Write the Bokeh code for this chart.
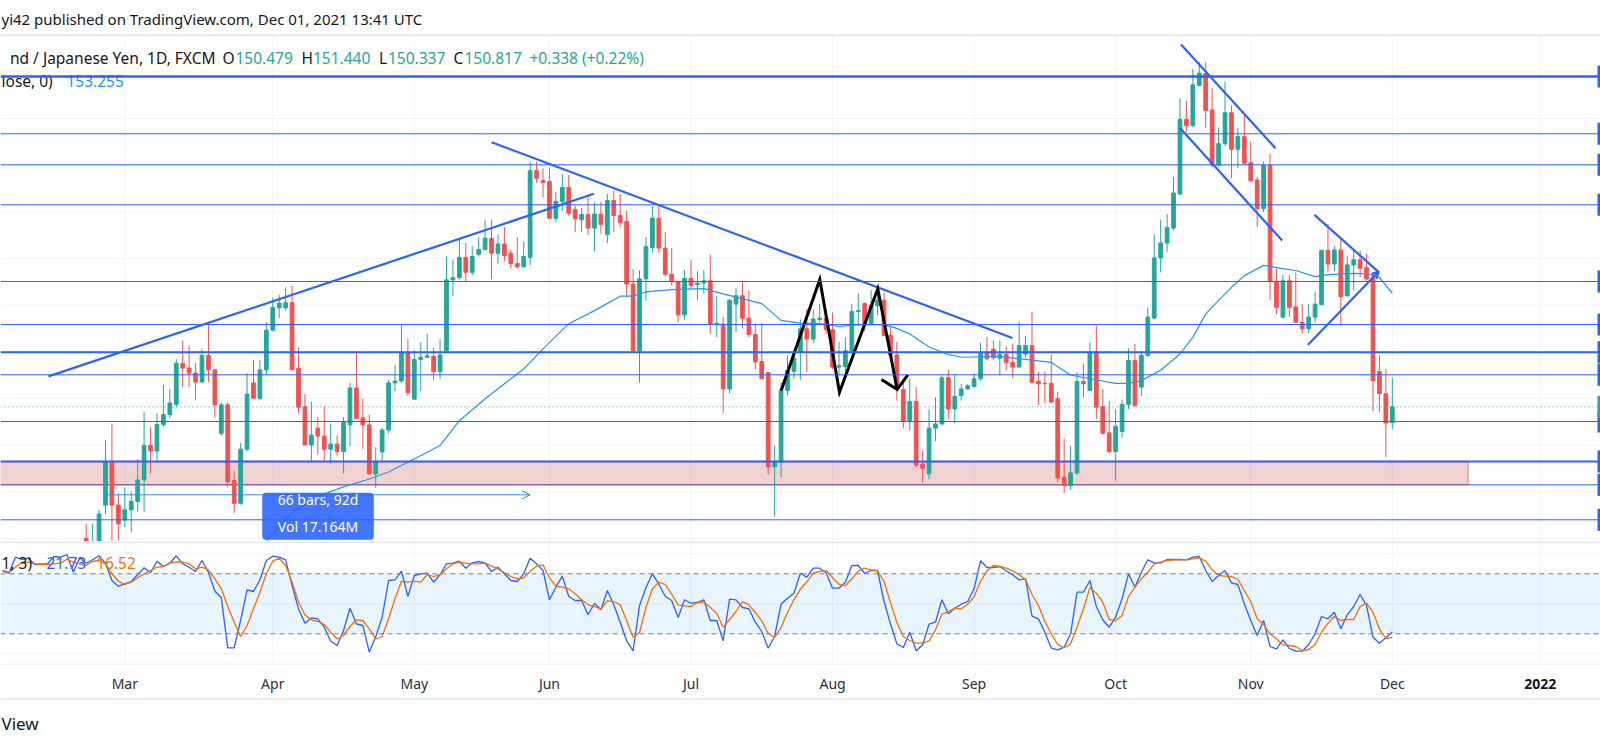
import pandas as pd
from bokeh.plotting import figure
from bokeh.layouts import column
from bokeh.models import Range1d, Span, BoxAnnotation, Arrow, OpenHead, ColumnDataSource, Label
from bokeh.core.properties import value
from bokeh.embed import file_html
from bokeh.resources import INLINE

# ---------------- texts ----------------
header_text = "yi42 published on TradingView.com, Dec 01, 2021 13:41 UTC"
symbol_text = "nd / Japanese Yen, 1D, FXCM"
ohlc_letters = ["O", "H", "L", "C"]
ohlc_texts = ["150.479", "151.440", "150.337", "150.817"]
change_text = "+0.338 (+0.22%)"
ma_label = "lose, 0)"
ma_value_text = "153.255"
stoch_label = "1, 3)"
stoch_k_text = "21.73"
stoch_d_text = "16.52"
footer_text = "View"
measure_texts = ["66 bars, 92d", "Vol 17.164M"]

# ---------------- candles (daily, from 2021-02-19) ----------------
candle_start = "2021-02-19"
opens = [
    148.0, 147.6, 147.9, 148.71, 149.64, 148.71, 148.39, 148.61, 148.79, 149.25,
    149.99, 149.87, 150.44, 150.65, 150.87, 151.75, 151.65, 151.54, 151.35, 151.92,
    151.61, 150.25, 150.86, 149.24, 148.75, 149.91, 151.33, 151.00, 151.61, 152.46,
    152.94, 152.94, 153.05, 151.64, 150.82, 150.00, 150.36, 150.19, 149.91, 150.02,
    149.86, 150.43, 151.22, 150.58, 150.43, 149.38, 149.85, 150.32, 151.33, 151.37,
    151.98, 150.98, 151.83, 151.88, 151.90, 151.57, 152.02, 153.54, 153.59, 154.02,
    153.70, 154.09, 154.19, 154.43, 154.11, 154.31, 154.11, 153.89, 153.82, 154.02,
    155.88, 155.67, 155.65, 154.86, 155.22, 155.52, 155.05, 154.83, 154.94, 154.65,
    154.95, 154.51, 155.24, 154.92, 154.79, 153.45, 152.02, 153.56, 154.23, 154.86,
    154.22, 153.66, 153.50, 152.79, 153.57, 153.44, 153.47, 153.52, 152.59, 152.59,
    151.20, 153.02, 153.20, 152.72, 152.37, 151.79, 151.55, 149.53, 149.63, 151.17,
    151.58, 151.99, 152.49, 152.27, 152.69, 152.72, 152.47, 151.67, 151.68, 152.02,
    152.86, 153.03, 152.60, 152.99, 153.10, 152.35, 151.93, 151.19, 150.50, 150.93,
    149.59, 149.38, 150.36, 150.45, 151.44, 150.77, 151.06, 151.20, 151.25, 151.42,
    151.97, 152.05, 151.86, 151.94, 151.77, 151.67, 151.95, 152.13, 151.36, 151.32,
    151.32, 150.99, 149.31, 149.13, 149.40, 151.36, 151.17, 151.99, 150.82, 150.26,
    149.86, 150.29, 150.87, 151.81, 151.24, 151.92, 152.72, 154.01, 154.33, 154.65,
    155.38, 156.98, 156.85, 157.71, 157.96, 157.18, 156.00, 156.46, 157.12, 156.34,
    156.61, 156.05, 155.68, 155.07, 155.99, 153.51, 152.74, 153.52, 152.96, 152.63,
    152.49, 152.74, 153.01, 154.17, 153.88, 154.18, 153.20, 153.86, 153.97, 153.80,
    153.60, 151.57, 151.10, 150.479,
]
highs = [
    148.31, 148.31, 148.61, 150.11, 150.46, 148.96, 149.09, 149.00, 149.70, 150.70,
    150.38, 150.68, 151.29, 151.20, 151.84, 152.24, 152.13, 151.76, 152.06, 152.57,
    151.63, 150.91, 150.91, 149.45, 150.04, 151.54, 151.82, 151.82, 152.63, 153.16,
    153.22, 153.38, 153.42, 152.09, 151.09, 150.93, 150.60, 150.83, 150.46, 150.21,
    150.60, 151.33, 151.97, 150.99, 150.65, 149.95, 150.36, 151.40, 151.72, 152.57,
    152.27, 152.03, 152.20, 152.38, 152.09, 152.27, 154.04, 153.97, 154.42, 154.33,
    154.26, 154.45, 154.83, 154.83, 154.51, 154.67, 154.19, 154.46, 154.36, 156.07,
    156.07, 155.93, 155.95, 155.42, 155.81, 155.79, 155.13, 155.08, 155.33, 155.20,
    155.21, 155.38, 155.45, 155.38, 155.02, 153.77, 153.74, 154.46, 155.12, 155.12,
    154.56, 154.22, 153.50, 153.75, 153.97, 153.72, 153.75, 154.08, 153.19, 152.75,
    153.13, 153.36, 153.49, 153.31, 152.60, 152.61, 151.57, 149.99, 151.35, 151.92,
    151.93, 152.69, 152.92, 152.90, 153.02, 152.92, 152.84, 152.21, 152.31, 153.02,
    153.25, 153.06, 153.32, 153.32, 153.27, 152.56, 152.21, 151.38, 151.42, 151.24,
    149.88, 150.76, 151.02, 151.49, 151.61, 151.52, 151.31, 151.31, 151.54, 152.19,
    152.31, 152.24, 152.24, 152.11, 152.17, 152.64, 152.34, 152.86, 151.57, 151.57,
    151.94, 151.14, 150.14, 149.97, 151.56, 151.74, 152.19, 152.56, 151.20, 150.94,
    150.76, 150.97, 152.07, 152.17, 152.02, 152.95, 154.51, 154.83, 154.95, 155.75,
    157.43, 157.38, 158.06, 158.21, 158.21, 157.65, 156.81, 157.79, 157.28, 156.80,
    157.08, 156.50, 155.75, 156.08, 156.24, 153.78, 153.65, 153.65, 153.70, 153.02,
    153.02, 153.29, 154.19, 154.74, 154.27, 154.42, 154.06, 154.20, 154.17, 154.10,
    153.67, 151.92, 151.63, 151.440,
]
lows = [
    147.5, 147.4, 147.8, 148.52, 147.95, 147.95, 148.24, 148.13, 148.57, 148.57,
    149.40, 149.63, 150.38, 150.58, 150.81, 151.24, 151.24, 150.96, 151.33, 151.35,
    150.58, 150.20, 149.09, 148.54, 148.72, 149.86, 151.00, 150.96, 151.50, 152.44,
    152.72, 152.89, 151.61, 150.68, 150.00, 149.63, 149.79, 149.66, 149.60, 149.77,
    149.39, 149.97, 150.57, 149.91, 149.38, 149.08, 149.67, 150.25, 151.16, 151.33,
    151.05, 150.98, 151.16, 151.87, 151.40, 151.42, 152.01, 153.19, 153.54, 153.50,
    153.64, 154.04, 154.17, 153.55, 153.89, 153.94, 153.78, 153.78, 153.80, 153.85,
    155.62, 155.31, 154.86, 154.78, 155.02, 154.91, 154.56, 154.56, 154.50, 154.15,
    154.53, 154.33, 154.56, 154.67, 153.16, 152.00, 151.33, 153.09, 154.12, 154.12,
    153.61, 153.42, 152.63, 152.67, 153.35, 153.11, 153.24, 152.38, 152.31, 150.69,
    151.11, 152.42, 152.50, 152.31, 151.62, 151.42, 149.37, 148.47, 149.31, 151.06,
    151.42, 151.40, 151.56, 152.19, 152.63, 152.38, 151.63, 151.49, 151.49, 152.00,
    152.54, 152.44, 152.57, 152.78, 152.33, 151.92, 150.95, 150.36, 150.31, 149.52,
    149.20, 149.27, 150.08, 150.43, 150.56, 150.47, 150.95, 151.19, 151.24, 151.38,
    151.81, 151.81, 151.51, 151.60, 151.43, 151.67, 151.87, 151.34, 150.86, 150.90,
    150.90, 149.20, 148.96, 149.04, 149.36, 151.02, 151.17, 150.56, 150.24, 149.82,
    149.24, 150.16, 150.77, 150.81, 151.05, 151.88, 152.70, 153.70, 154.13, 154.60,
    155.36, 156.71, 156.81, 157.69, 156.80, 155.95, 155.97, 156.41, 155.72, 155.93,
    156.03, 155.63, 154.67, 154.99, 153.11, 152.81, 152.72, 152.75, 152.61, 152.40,
    152.40, 152.63, 152.99, 153.70, 153.72, 152.56, 153.17, 153.31, 153.60, 153.52,
    150.72, 150.70, 149.74, 150.337,
]
closes = [
    147.7, 147.9, 148.52, 149.64, 148.71, 148.31, 148.61, 148.79, 149.25, 149.99,
    149.87, 150.44, 150.65, 150.90, 151.75, 151.65, 151.54, 151.35, 151.92, 151.61,
    150.86, 150.86, 149.21, 148.75, 149.91, 151.09, 151.00, 151.61, 152.46, 152.95,
    153.04, 153.05, 151.61, 150.81, 150.00, 150.21, 150.19, 149.91, 150.02, 149.86,
    150.48, 151.22, 150.57, 150.43, 149.38, 149.63, 150.32, 151.33, 151.37, 151.98,
    151.12, 151.83, 151.88, 151.91, 151.57, 151.93, 153.54, 153.59, 154.02, 153.70,
    154.04, 154.19, 154.43, 154.11, 154.31, 154.06, 153.89, 153.82, 154.04, 155.88,
    155.72, 155.63, 154.86, 155.22, 155.52, 154.97, 154.85, 154.94, 154.65, 154.95,
    154.73, 155.24, 154.92, 154.77, 153.45, 152.02, 153.56, 154.25, 154.86, 154.22,
    153.66, 153.50, 152.79, 153.57, 153.42, 153.47, 153.52, 152.59, 152.61, 151.20,
    153.10, 153.20, 152.72, 152.37, 151.78, 151.42, 149.53, 149.63, 151.17, 151.60,
    151.86, 152.49, 152.27, 152.70, 152.72, 152.47, 151.67, 151.70, 152.02, 152.86,
    152.88, 152.60, 152.99, 153.10, 152.35, 151.93, 151.22, 150.50, 150.93, 149.57,
    149.50, 150.36, 150.45, 151.44, 150.77, 151.04, 151.20, 151.27, 151.42, 151.97,
    151.85, 151.87, 151.94, 151.77, 151.67, 152.13, 152.13, 151.34, 151.31, 151.31,
    150.92, 149.29, 149.13, 149.40, 151.36, 151.31, 151.99, 150.81, 150.25, 149.86,
    150.40, 150.87, 151.81, 150.85, 151.92, 152.74, 154.01, 154.33, 154.66, 155.40,
    156.98, 156.85, 157.72, 157.97, 157.17, 156.00, 156.46, 157.12, 156.34, 156.61,
    156.04, 155.67, 155.07, 155.99, 153.51, 152.95, 153.52, 152.95, 152.63, 152.49,
    152.74, 153.02, 154.17, 153.88, 154.18, 153.18, 153.86, 153.97, 153.79, 153.56,
    151.38, 151.10, 150.47, 150.817,
]

# ---------------- moving average samples (trading days after 2021-03-01) ----------------
ma_days = [22, 26, 30, 34, 38, 41, 44, 49, 52, 56, 59, 62, 65, 69, 73, 77, 79, 81, 85, 90,
           93, 99, 102, 105, 108, 111, 114, 118, 120, 122, 125, 128, 130, 136, 139, 144, 147,
           150, 154, 156, 158, 161, 164, 166, 168, 170, 172, 174, 177, 178, 180, 182, 185, 187,
           191, 193, 195, 197]
ma_values = [147.95, 148.55, 148.9, 149.1, 149.27, 149.42, 149.63, 149.99, 150.52, 150.99,
             151.31, 151.63, 152.06, 152.60, 152.88, 153.19, 153.19, 153.28, 153.33, 153.35,
             153.24, 153.03, 152.67, 152.61, 152.60, 152.54, 152.58, 152.58, 152.50, 152.38,
             152.10, 151.94, 151.88, 151.90, 151.85, 151.77, 151.50, 151.42, 151.32, 151.32,
             151.38, 151.60, 151.95, 152.31, 152.81, 153.10, 153.38, 153.63, 153.85, 153.83,
             153.78, 153.74, 153.61, 153.65, 153.68, 153.67, 153.59, 153.255]

# ---------------- stochastic (daily, from 2021-02-02) ----------------
stoch_start = "2021-02-02"
stoch_k = [
    82.6, 80.6, 96.6, 94.3, 95.6, 89.3, 90, 90, 97.3, 96.6,
    99.3, 81.6, 96, 90.6, 94, 98, 90.6, 73.3, 67.6, 70,
    72.3, 79, 86, 81, 92.6, 87.3, 90.6, 98, 90, 86.6,
    82.3, 93.3, 81.6, 62.6, 56, 6, 6, 33.3, 64, 62.3,
    74, 93.3, 97.6, 96.6, 94, 68.3, 45, 30.6, 36, 35,
    26.6, 12.6, 8.3, 23.3, 45.6, 30, 28.3, 1.6, 17.3, 36.6,
    73.3, 74, 82.6, 57.3, 78.3, 80, 80.6, 71.6, 79.3, 90,
    90.6, 92.6, 85.6, 91, 92.3, 90.6, 82.3, 86.6, 80, 73.3,
    72.3, 80, 95.6, 90, 83.3, 54, 66.6, 77.6, 57.3, 53.3,
    53.3, 39, 50.6, 44, 63.3, 49, 31.6, 13, 3, 48,
    66.3, 80, 69.6, 57.6, 53.3, 36.3, 54, 50.6, 51.3, 54,
    33.3, 33.3, 13, 54.6, 54, 46.3, 45, 31.6, 22.3, 5.6,
    17.3, 49.6, 55.6, 60.6, 80.6, 76.6, 85.6, 85.6, 81, 65.6,
    65.6, 71.6, 88.3, 88.3, 80.3, 83.3, 83.3, 52.3, 30, 10,
    6.3, 21.6, 3, 9, 29.6, 31.6, 54, 40, 45.6, 49.6,
    52.3, 65, 93, 86.3, 86.3, 87.3, 83, 79, 74, 75,
    37.6, 35, 21.6, 5.6, 4, 6.6, 20, 61.6, 61.6, 73.3,
    47.3, 34, 26.6, 36.6, 55, 80, 66.6, 81.6, 94, 91,
    91, 94.3, 94.3, 94.3, 94, 96.6, 97.3, 83.3, 72.3, 78.3,
    83.3, 71, 69.3, 50, 33.3, 18.3, 33.3, 7.3, 5, 14,
    5.3, 2.6, 2.6, 9.3, 20, 37.3, 35, 41.6, 25, 39,
    47.3, 59.3, 48.3, 16.6, 10.6, 16, 21.73,
]
stoch_d = [
    83.3, 81.6, 86.6, 91.3, 91.6, 90, 89.3, 89.3, 90, 90.6,
    94.6, 91.6, 90, 88.6, 92.3, 93.3, 90, 80, 72.6, 69.3,
    71.6, 76, 80, 83.3, 86.6, 87.3, 90.6, 92, 91.6, 90,
    85, 86.6, 84, 75, 65, 47.3, 31.6, 17.3, 28.3, 45,
    61.6, 80, 92.6, 95.6, 88.3, 71.6, 51.6, 39, 34, 32.3,
    29.3, 21.6, 15, 18.3, 27.3, 34, 33.3, 25, 15, 17.3,
    35, 55, 72.6, 71.6, 72.6, 71.6, 79.3, 77.3, 79.3, 85,
    90, 91.6, 90.6, 90, 90, 90.6, 87.6, 85, 81, 77.3,
    75, 76, 82.6, 87.6, 89, 76, 67.6, 66.6, 65, 60,
    54, 49, 47.3, 44.6, 53, 52.3, 49, 33, 16.6, 21.3,
    46.3, 65, 71.6, 69.3, 59.6, 49, 48, 47.3, 51.3, 52,
    46.3, 40.6, 26.6, 34.3, 42.3, 52.3, 49, 41.3, 33, 20.6,
    16.3, 26.3, 41.6, 54, 64.6, 72, 80.6, 82.3, 83, 76.3,
    69.6, 68, 75, 83, 85.6, 84, 83, 72.3, 51.3, 31.3,
    17.3, 13.3, 10.6, 10.6, 13, 24, 39.6, 42.3, 45.6, 45,
    49.6, 57.3, 72.3, 83, 88.3, 87.3, 85.6, 83, 79, 74,
    59.3, 48.3, 32.3, 20, 9.3, 6, 10, 26.6, 45, 66,
    60.6, 51.6, 34.3, 33.3, 38.3, 57.3, 66.6, 75, 81.6, 90,
    91.6, 93.3, 94, 94, 94, 95, 95.6, 92.6, 84, 78.3,
    77.6, 77.3, 74.3, 63.3, 52.3, 35, 29.3, 20, 15, 9,
    8.3, 7.3, 3.3, 4.3, 9.3, 21.6, 30.6, 37.6, 33.3, 34.3,
    34.3, 47.3, 50.6, 41.6, 25, 15.3, 16.52,
]
stoch_upper, stoch_lower = 80, 20

# ---------------- drawings ----------------
last_close = 150.817
hline_prices = [157.900, 156.671, 156.006, 155.149, 153.504, 152.582, 151.988,
                151.504, 150.503, 149.645, 148.395]
hline_widths = [2.5, 1, 1, 1, 1, 1, 2, 1, 1, 2, 1]
zone_top, zone_bottom, zone_end_day = 149.645, 149.145, 208.8

trend_x0 = [-11.86, 57.0, 164.16, 163.97, 184.9]
trend_y0 = [151.47, 156.49, 158.586, 156.80, 154.934]
trend_x1 = [72.9, 137.97, 178.85, 179.89, 194.9]
trend_y1 = [155.385, 152.295, 156.362, 154.383, 153.704]
pennant_low = (183.9, 152.147, 194.9, 153.72)

zigzag_days = [102.02, 108.02, 111.08, 117.03, 120.05]
zigzag_prices = [151.167, 153.547, 151.131, 153.348, 151.189]
zigzag_head_days = [117.61, 120.05, 121.7]
zigzag_head_prices = [151.403, 151.189, 151.504]

measure_start_day, measure_bars, measure_price = -3, 66, 148.931
measure_box = dict(left=21.36, right=38.7, bottom=147.97, top=148.974)
measure_text_prices = [148.824, 148.251]

tick_dates = ["2021-03-01", "2021-04-01", "2021-05-03", "2021-06-01", "2021-07-01",
              "2021-08-02", "2021-09-01", "2021-10-01", "2021-11-01", "2021-12-01",
              "2022-01-03"]
tick_labels = ["Mar", "Apr", "May", "Jun", "Jul", "Aug", "Sep", "Oct", "Nov", "Dec", "2022"]

# ---------------- style / layout ----------------
FONT = "Noto Sans"
GREEN, RED = "#26a69a", "#ef5350"
BLUE, MA_BLUE, ORANGE = "#2962ff", "#2196f3", "#ff6d00"
TXT, GRID, SEP = "#131722", "#f0f3fa", "#e0e3eb"
W = 1600
H_HEAD, H_MAIN, H_STOCH, H_AXIS, H_FOOT = 36, 505, 122, 37, 46
PAGE_X_FIRST_TICK, PX_PER_BAR = 124.3, 6.434
X_START = -PAGE_X_FIRST_TICK / PX_PER_BAR
X_END = X_START + W / PX_PER_BAR
PRICE_LOW, PRICE_HIGH = 147.930, 158.757
PX_PER_YEN = H_MAIN / (PRICE_HIGH - PRICE_LOW)
STOCH_LOW, STOCH_HIGH = -9.7, 112.3
LEG = "15.5px"

cal = pd.bdate_range("2021-02-01", "2022-01-31")
base = cal.get_loc(pd.Timestamp("2021-03-01"))


def day_of(d):
    return cal.get_loc(pd.Timestamp(d)) - base


tick_days = [day_of(d) for d in tick_dates]
x_range = Range1d(X_START, X_END)


def make_fig(h, xr, yr):
    f = figure(width=W, height=h, x_range=xr, y_range=yr, toolbar_location=None,
               output_backend="svg", x_axis_type=None, y_axis_type=None,
               min_border=0, min_border_left=0, min_border_right=0,
               min_border_top=0, min_border_bottom=0)
    f.outline_line_color = None
    f.background_fill_color = "white"
    f.border_fill_color = "white"
    return f


def px_texts(f, xs, texts, colors, align, y, size, style="normal"):
    src = ColumnDataSource(dict(x=xs, y=[y] * len(xs), text=texts, color=colors))
    f.text(x="x", y="y", text="text", text_color="color", source=src,
           text_align=align, text_baseline="middle", text_font=value(FONT),
           text_font_size=size, text_font_style=style,
           x_range_name="px", y_range_name="py")


def add_px(f, h):
    f.extra_x_ranges = {"px": Range1d(0, W)}
    f.extra_y_ranges = {"py": Range1d(h, 0)}


# ---------------- header ----------------
head = make_fig(H_HEAD, Range1d(0, W), Range1d(H_HEAD, 0))
add_px(head, H_HEAD)
px_texts(head, [1], [header_text], [TXT], "left", 18, "15px")
head.quad(left=[0], right=[W], top=[34], bottom=[36], color=SEP, line_color=None)

# ---------------- main pane ----------------
p = make_fig(H_MAIN, x_range, Range1d(PRICE_LOW, PRICE_HIGH))
add_px(p, H_MAIN)
for d in tick_days:
    p.add_layout(Span(location=d, dimension="height", line_color=GRID, line_width=1, level="underlay"))
for v in range(148, 159):
    p.add_layout(Span(location=v, dimension="width", line_color=GRID, line_width=1, level="underlay"))
p.add_layout(Span(location=zone_bottom, dimension="width", line_color=BLUE, line_width=1, level="underlay"))
p.add_layout(BoxAnnotation(left=-60, right=zone_end_day, bottom=zone_bottom, top=zone_top,
                           fill_color="#b71c1c", fill_alpha=0.2, line_color="#b71c1c",
                           line_width=1.5, level="underlay"))

c0 = day_of(candle_start)
xs = [c0 + k for k in range(len(opens))]
up = {"x": [], "top": [], "bottom": [], "high": [], "low": []}
dn = {"x": [], "top": [], "bottom": [], "high": [], "low": []}
for x, o, h, l, c in zip(xs, opens, highs, lows, closes):
    t = up if c >= o else dn
    t["x"].append(x)
    t["top"].append(max(o, c))
    t["bottom"].append(min(o, c))
    t["high"].append(h)
    t["low"].append(l)
for t, col in ((up, GREEN), (dn, RED)):
    src = ColumnDataSource(t)
    p.segment(x0="x", y0="low", x1="x", y1="high", source=src, line_color=col, line_width=1)
    p.vbar(x="x", width=0.58, top="top", bottom="bottom", source=src,
           fill_color=col, line_color=col, line_width=1)

p.line(ma_days, ma_values, line_color=MA_BLUE, line_width=1.2)

p.segment(x0=trend_x0, y0=trend_y0, x1=trend_x1, y1=trend_y1, line_color=BLUE, line_width=2.2)
p.add_layout(Arrow(end=OpenHead(size=7, line_color=BLUE, line_width=2),
                   x_start=pennant_low[0], y_start=pennant_low[1],
                   x_end=pennant_low[2], y_end=pennant_low[3], line_color=BLUE, line_width=2.2))
p.line(zigzag_days, zigzag_prices, line_color="black", line_width=3, line_join="miter")
p.line(zigzag_head_days, zigzag_head_prices, line_color="black", line_width=3, line_join="miter")

for v, wdt in zip(hline_prices, hline_widths):
    p.add_layout(Span(location=v, dimension="width", line_color=BLUE, line_width=wdt))
p.add_layout(Span(location=last_close, dimension="width", line_color=GREEN, line_width=1,
                  line_dash="1 3"))

# price-scale label stubs peeking in at the right edge
stub_prices = hline_prices + [zone_bottom]
half = 11 / PX_PER_YEN
p.quad(left=[W - 3] * len(stub_prices), right=[W] * len(stub_prices),
       top=[v + half for v in stub_prices], bottom=[v - half for v in stub_prices],
       color=BLUE, line_color=None, x_range_name="px")
p.quad(left=[W - 3], right=[W], top=[last_close + half], bottom=[last_close - half],
       color=GREEN, line_color=None, x_range_name="px")

p.add_layout(Arrow(end=OpenHead(size=8, line_color=MA_BLUE, line_width=1),
                   x_start=measure_start_day, y_start=measure_price,
                   x_end=measure_start_day + measure_bars, y_end=measure_price,
                   line_color=MA_BLUE, line_width=1))
p.add_layout(BoxAnnotation(fill_color=BLUE, fill_alpha=0.88, line_color=None,
                           border_radius=4, **measure_box))
mx = (measure_box["left"] + measure_box["right"]) / 2
for txt, yv in zip(measure_texts, measure_text_prices):
    p.add_layout(Label(x=mx, y=yv, text=txt, text_color="white", text_align="center",
                       text_baseline="middle", text_font=FONT, text_font_size="14px"))

# legend
px_texts(p, [215], [symbol_text], [TXT], "right", 21.3, LEG)
px_texts(p, [221.9, 301, 378.5, 453], ohlc_letters, [TXT] * 4, "left", 21.3, LEG)
px_texts(p, [235, 312.5, 387.5, 464, 529], ohlc_texts + [change_text], [GREEN] * 5, "left", 21.3, LEG)
px_texts(p, [1], [ma_label], [TXT], "left", 44, LEG)
px_texts(p, [66], [ma_value_text], [MA_BLUE], "left", 44, LEG)

# ---------------- stochastic pane ----------------
s = make_fig(H_STOCH, x_range, Range1d(STOCH_LOW, STOCH_HIGH))
add_px(s, H_STOCH)
for d in tick_days:
    s.add_layout(Span(location=d, dimension="height", line_color=GRID, line_width=1, level="underlay"))
for v in (0, 50, 100):
    s.add_layout(Span(location=v, dimension="width", line_color=GRID, line_width=1, level="underlay"))
s.add_layout(BoxAnnotation(bottom=stoch_lower, top=stoch_upper, fill_color=MA_BLUE,
                           fill_alpha=0.1, line_color=None, level="underlay"))
for v in (stoch_upper, stoch_lower):
    s.add_layout(Span(location=v, dimension="width", line_color="#787b86", line_width=1,
                      line_dash="5 4"))
s0 = day_of(stoch_start)
sx = [s0 + k for k in range(len(stoch_k))]
s.line(sx, stoch_k, line_color=BLUE, line_width=1.3)
s.line(sx, stoch_d, line_color=ORANGE, line_width=1.3)
s.quad(left=[0], right=[W], top=[0], bottom=[1.5], color=SEP, line_color=None,
       x_range_name="px", y_range_name="py")
px_texts(s, [1], [stoch_label], [TXT], "left", 21.7, LEG)
px_texts(s, [46, 95.7], [stoch_k_text, stoch_d_text], [BLUE, ORANGE], "left", 21.7, LEG)

# ---------------- time axis ----------------
a = make_fig(H_AXIS, x_range, Range1d(H_AXIS, 0))
a.quad(left=[X_START], right=[X_END], top=[0], bottom=[1], color=SEP, line_color=None)
a.quad(left=[X_START], right=[X_END], top=[34.5], bottom=[37], color="#ebecf0", line_color=None)
a.text(x=tick_days[:-1], y=[20] * (len(tick_days) - 1), text=tick_labels[:-1],
       text_align="center", text_baseline="middle", text_font=value(FONT),
       text_font_size="14px", text_color="#2a2e39")
a.text(x=tick_days[-1:], y=[20], text=tick_labels[-1:], text_align="center",
       text_baseline="middle", text_font=value(FONT), text_font_size="14px",
       text_font_style="bold", text_color=TXT)

# ---------------- footer ----------------
foot = make_fig(H_FOOT, Range1d(0, W), Range1d(H_FOOT, 0))
add_px(foot, H_FOOT)
px_texts(foot, [1], [footer_text], [TXT], "left", 23, "17px")

layout = column(head, p, s, a, foot, spacing=0)
open("out.html", "w").write(file_html(layout, INLINE, "GBPJPY"))
